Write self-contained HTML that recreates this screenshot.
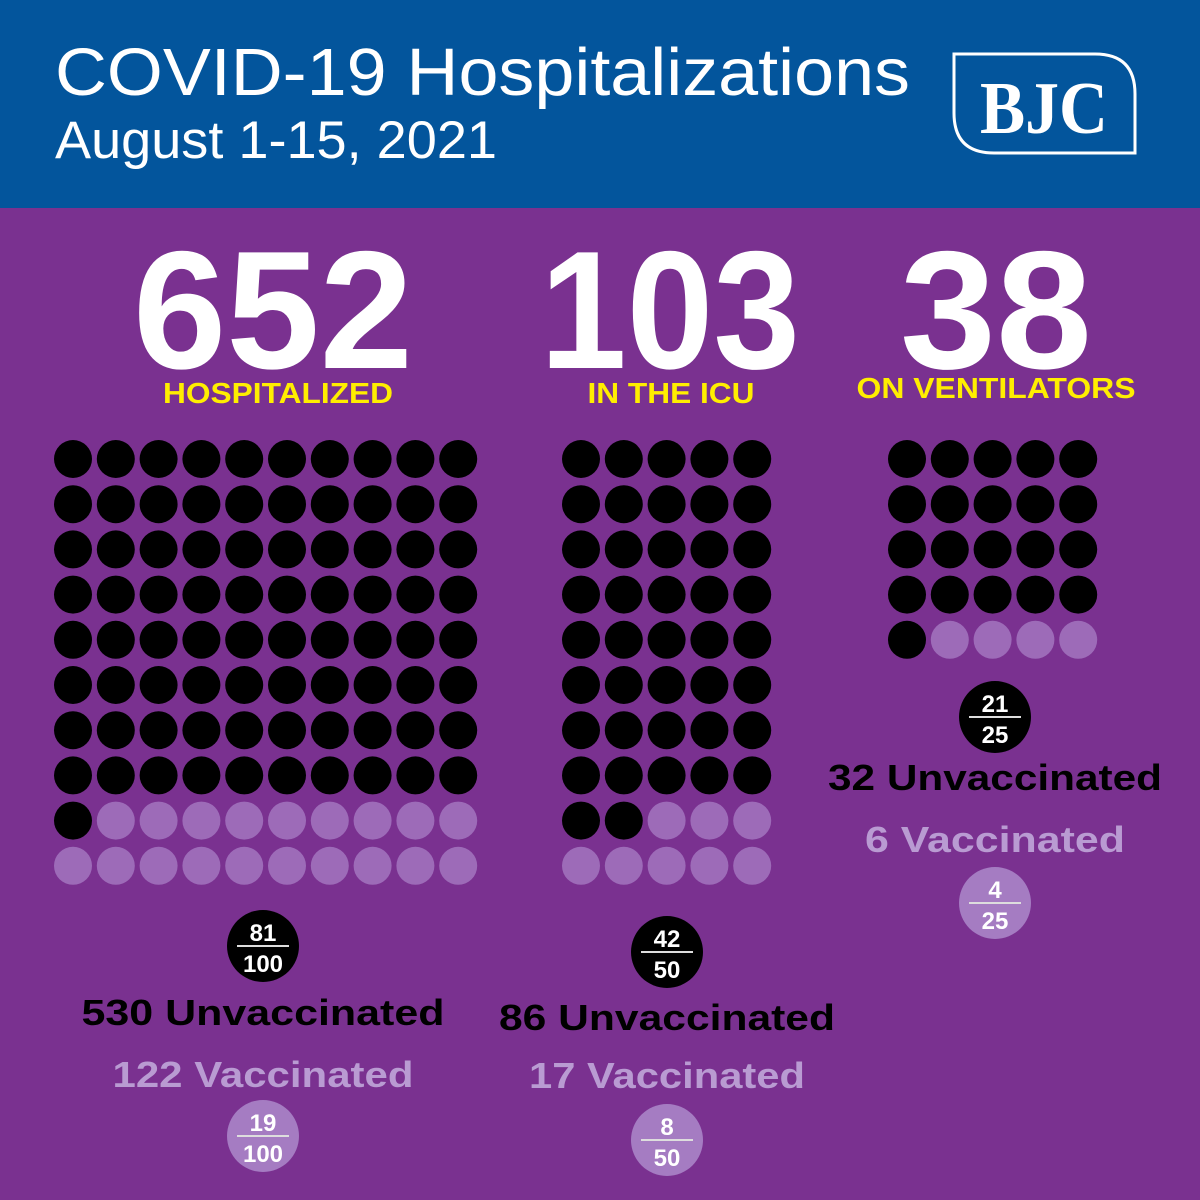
<!DOCTYPE html>
<html><head><meta charset="utf-8">
<style>
html,body{margin:0;padding:0;width:1200px;height:1200px;overflow:hidden;background:#7A3190;}
svg{display:block;}
text{font-family:"Liberation Sans",sans-serif;}
</style></head>
<body>
<svg id="chart" width="1200" height="1200" viewBox="0 0 1200 1200">
  <rect x="0" y="0" width="1200" height="208" fill="#03559C"/>
  <rect x="0" y="208" width="1200" height="992" fill="#7A3190"/>
  <text x="55" y="95" font-size="67" fill="#fff" textLength="855" lengthAdjust="spacingAndGlyphs">COVID-19 Hospitalizations</text>
  <text x="55" y="158" font-size="53" fill="#fff" textLength="442" lengthAdjust="spacingAndGlyphs">August 1-15, 2021</text>
  <g>
    <path d="M954,54 H1095 Q1135,54 1135,94 V153 H994 Q954,153 954,113 Z" fill="none" stroke="#fff" stroke-width="3"/>
    <text x="1044" y="133" style="font-family:'Liberation Serif',serif;font-weight:bold;" font-size="74" fill="#fff" text-anchor="middle" textLength="128" lengthAdjust="spacingAndGlyphs">BJC</text>
  </g>
  <g id="panels"></g>
</svg>
<script>
const panelTitles = ["652", "103", "38"];
const panelLabels = ["HOSPITALIZED", "IN THE ICU", "ON VENTILATORS"];
const totals = [652, 103, 38];
const unvaccinated = [530, 86, 32];
const vaccinated = [122, 17, 6];
const dotsBlack = [81, 42, 21];
const dotsTotal = [100, 50, 25];
const gridCols = [10, 5, 5];

// layout (not data)
const layout = [
  {numX:273, numW:280, labX:278, labW:230, labY:403, gx:73, gy:459, badgeU:946, textU:1025, textV:1087, badgeV:1136, cx:263, uW:363, vW:301},
  {numX:670, numW:260, labX:671, labW:167, labY:403, gx:581, gy:459, badgeU:952, textU:1030, textV:1088, badgeV:1140, cx:667, uW:336, vW:276},
  {numX:996, numW:192, labX:996, labW:279, labY:398, gx:907, gy:459, badgeU:717, textU:790, textV:852, badgeV:903, cx:995, uW:334, vW:260}
];
const NS = "http://www.w3.org/2000/svg";
const root = document.getElementById('panels');
function mk(tag, attrs, parent){const e=document.createElementNS(NS,tag);for(const k in attrs)e.setAttribute(k,attrs[k]);parent.appendChild(e);return e;}

function badge(g, cx, cy, num, den, fill, name){
  const b = mk('g',{},g);
  
  
  mk('circle',{cx:cx,cy:cy,r:36,fill:fill},b);
  const t1=mk('text',{x:cx,y:cy-5,'font-size':24,'font-weight':'bold',fill:'#fff','text-anchor':'middle'},b);t1.textContent=num;
  mk('line',{x1:cx-26,x2:cx+26,y1:cy,y2:cy,stroke:'#ddd','stroke-width':2},b);
  const t2=mk('text',{x:cx,y:cy+26,'font-size':24,'font-weight':'bold',fill:'#fff','text-anchor':'middle'},b);t2.textContent=den;
}

for(let p=0;p<3;p++){
  const L = layout[p];
  const g = mk('g',{},root);
  
  
  const n = mk('text',{x:L.numX,y:368,'font-size':168,'font-weight':'bold',fill:'#fff','text-anchor':'middle',textLength:L.numW,lengthAdjust:'spacingAndGlyphs'},g);
  n.textContent = panelTitles[p];
  
  
  const lb = mk('text',{x:L.labX,y:L.labY,'font-size':29,'font-weight':'bold',fill:'#FFEE00','text-anchor':'middle',textLength:L.labW,lengthAdjust:'spacingAndGlyphs'},g);
  lb.textContent = panelLabels[p];
  
  
  const cols = gridCols[p];
  for(let i=0;i<dotsTotal[p];i++){
    const c = i%cols, r = Math.floor(i/cols);
    const d = mk('circle',{cx:L.gx+c*42.8, cy:L.gy+r*45.2, r:19, fill: i<dotsBlack[p] ? '#000' : '#9D6BB8'},g);
    
    
  }
  badge(g, L.cx, L.badgeU, dotsBlack[p], dotsTotal[p], '#000', 'fraction-unvaccinated');
  badge(g, L.cx, L.badgeV, dotsTotal[p]-dotsBlack[p], dotsTotal[p], '#A57CC2', 'fraction-vaccinated');
  const tu = mk('text',{x:L.cx,y:L.textU,'font-size':36,'font-weight':'bold',fill:'#000','text-anchor':'middle',textLength:L.uW,lengthAdjust:'spacingAndGlyphs'},g);
  tu.textContent = unvaccinated[p]+' Unvaccinated';
  
  
  const tv = mk('text',{x:L.cx,y:L.textV,'font-size':36,'font-weight':'bold',fill:'#B99BD2','text-anchor':'middle',textLength:L.vW,lengthAdjust:'spacingAndGlyphs'},g);
  tv.textContent = vaccinated[p]+' Vaccinated';
  
  
}
</script>
</body></html>
